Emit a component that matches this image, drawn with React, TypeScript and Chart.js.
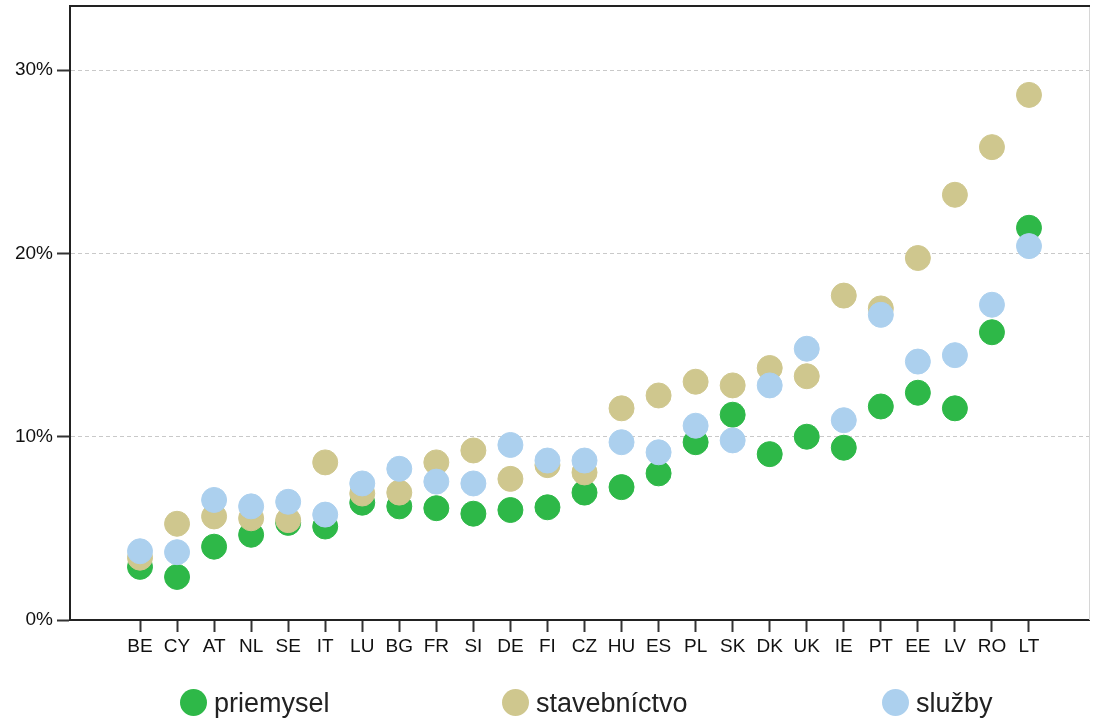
import React, { useEffect, useRef } from 'react';
import { Chart, registerables } from 'chart.js';

Chart.register(...registerables);

const categories = ['BE', 'CY', 'AT', 'NL', 'SE', 'IT', 'LU', 'BG', 'FR', 'SI', 'DE', 'FI', 'CZ', 'HU', 'ES', 'PL', 'SK', 'DK', 'UK', 'IE', 'PT', 'EE', 'LV', 'RO', 'LT'];
const priemysel = [2.9, 2.35, 4.0, 4.65, 5.3, 5.1, 6.4, 6.2, 6.1, 5.8, 6.0, 6.15, 6.95, 7.25, 8.0, 9.7, 11.2, 9.05, 10.0, 9.4, 11.65, 12.4, 11.55, 15.7, 21.4];
const stavebnictvo = [3.4, 5.25, 5.65, 5.55, 5.45, 8.6, 6.9, 6.95, 8.6, 9.25, 7.7, 8.45, 8.05, 11.55, 12.25, 13.0, 12.8, 13.75, 13.3, 17.7, 17.0, 19.75, 23.2, 25.8, 28.65];
const sluzby = [3.75, 3.7, 6.55, 6.2, 6.45, 5.75, 7.45, 8.25, 7.55, 7.45, 9.55, 8.7, 8.7, 9.7, 9.15, 10.6, 9.8, 12.8, 14.8, 10.9, 16.65, 14.1, 14.45, 17.2, 20.4];
const yTicks = [0, 10, 20, 30];
const seriesNames = ['priemysel', 'stavebníctvo', 'služby'];
const seriesColors = ['#2EB848', '#CFC78E', '#ACD0EE'];

const W = 1093;
const H = 719;
const FONT = "'Liberation Sans', Arial, sans-serif";

const framePlugin = {
  id: 'frame',
  afterDraw(chart: any) {
    const { ctx, chartArea: a } = chart;
    ctx.save();
    ctx.strokeStyle = '#d6d6d6';
    ctx.lineWidth = 1;
    ctx.beginPath();
    ctx.moveTo(a.right + 0.5, a.top);
    ctx.lineTo(a.right + 0.5, a.bottom);
    ctx.stroke();
    ctx.strokeStyle = '#222';
    ctx.lineWidth = 2;
    ctx.beginPath();
    ctx.moveTo(a.left - 1, a.top);
    ctx.lineTo(a.right + 1, a.top);
    ctx.stroke();
    ctx.restore();
  },
};

export default function App() {
  const ref = useRef<HTMLCanvasElement | null>(null);

  useEffect(() => {
    if (!ref.current) return;
    const series = [priemysel, stavebnictvo, sluzby];
    const chart = new Chart(ref.current, {
      type: 'scatter',
      data: {
        datasets: series.map((vals, s) => ({
          label: seriesNames[s],
          data: vals.map((v, i) => ({ x: i, y: v })),
          backgroundColor: seriesColors[s],
          borderColor: seriesColors[s],
          borderWidth: 1,
          pointRadius: 12.5,
          pointHoverRadius: 12.5,
          order: 2 - s,
        })),
      },
      options: {
        responsive: false,
        animation: false,
        devicePixelRatio: 1,
        layout: { autoPadding: false, padding: { top: 6, right: 4, left: 0, bottom: 0 } },
        plugins: { legend: { display: false }, tooltip: { enabled: false } },
        scales: {
          x: {
            type: 'linear',
            min: -1.89,
            max: 25.62,
            afterBuildTicks: (scale: any) => {
              scale.ticks = categories.map((_, i) => ({ value: i }));
            },
            afterFit: (scale: any) => {
              scale.height = H - 620;
              scale.paddingLeft = 0;
              scale.paddingRight = 0;
              scale.paddingTop = 0;
              scale.paddingBottom = 0;
            },
            ticks: {
              autoSkip: false,
              maxRotation: 0,
              padding: 3,
              color: '#111',
              font: { family: FONT, size: 19 },
              callback: (v: any) => categories[v as number] ?? '',
            },
            grid: {
              drawOnChartArea: false,
              tickLength: 12,
              tickWidth: 2,
              tickColor: '#333',
            },
            border: { display: true, color: '#222', width: 2 },
          },
          y: {
            type: 'linear',
            min: 0,
            max: 33.5,
            afterBuildTicks: (scale: any) => {
              scale.ticks = yTicks.map((v) => ({ value: v }));
            },
            afterFit: (scale: any) => {
              scale.width = 70;
              scale.paddingLeft = 0;
              scale.paddingRight = 0;
              scale.paddingTop = 0;
              scale.paddingBottom = 0;
            },
            ticks: {
              padding: 4,
              color: '#111',
              font: { family: FONT, size: 19 },
              callback: (v: any) => `${v}%`,
            },
            grid: {
              color: (c: any) => (c.tick && c.tick.value === 0 ? 'rgba(0,0,0,0)' : '#c9c9c9'),
              lineWidth: 1,
              tickLength: 13,
              tickWidth: 2,
              tickColor: '#333',
            },
            border: { display: true, color: '#222', width: 2, dash: [4, 3] },
          },
        },
      },
      plugins: [framePlugin],
    } as any);
    return () => chart.destroy();
  }, []);

  const legendX = [193, 515, 895];

  return (
    <div style={{ position: 'fixed', left: 0, top: 0, width: W, height: H, background: '#fff' }}>
      <canvas ref={ref} width={W} height={H} style={{ width: W, height: H, display: 'block' }} />
      {seriesNames.map((name, s) => (
        <div key={name}>
          <div
            style={{
              position: 'absolute',
              left: legendX[s] - 13.5,
              top: 702 - 13.5,
              width: 27,
              height: 27,
              borderRadius: '50%',
              background: seriesColors[s],
            }}
          />
          <div
            style={{
              position: 'absolute',
              left: legendX[s] + 21,
              top: 688,
              fontFamily: FONT,
              fontSize: 27,
              lineHeight: '31px',
              color: '#222',
              whiteSpace: 'nowrap',
            }}
          >
            {name}
          </div>
        </div>
      ))}
    </div>
  );
}
